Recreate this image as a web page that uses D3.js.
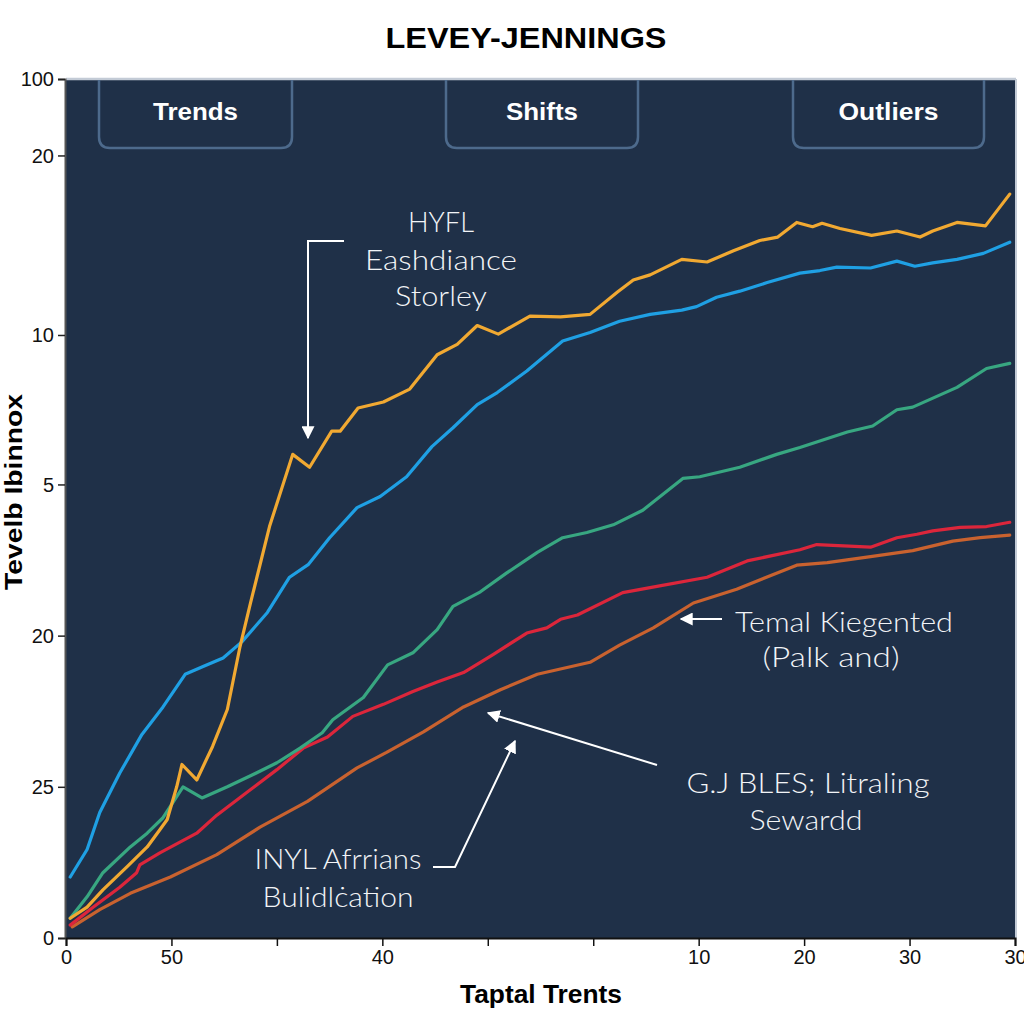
<!DOCTYPE html>
<html><head><meta charset="utf-8">
<script src="https://cdn.jsdelivr.net/npm/d3@7"></script>
<style>
html,body{margin:0;padding:0;background:#fff;}
svg{display:block;}
</style></head>
<body>
<svg id="chart" width="1024" height="1024"></svg>
<script>
// ---- data ----
const xTickValues = [0,10,20,30,40,50,60,70,80,90];
const xTickLabels = ["0","50","","40","","","10","20","30","30"];
const yTickValues = [0,17.6,35.2,52.8,70.2,91.1,100];
const yTickLabels = ["0","25","20","5","10","20","100"];
const categories = ["Trends","Shifts","Outliers"];

const seriesOrange = [[0.4,2.3],[2.0,3.6],[3.5,5.6],[5.8,8.3],[7.7,10.6],[8.9,12.6],[9.6,13.8],[10.5,17.6],[11.0,20.2],[12.4,18.4],[13.9,22.3],[15.3,26.6],[16.5,33.9],[17.5,39.0],[19.3,47.9],[21.5,56.3],[23.1,54.8],[25.2,59.0],[26.0,59.0],[27.7,61.7],[30.1,62.4],[32.6,63.9],[35.2,67.9],[37.1,69.1],[39.0,71.3],[41.0,70.3],[44.0,72.4],[46.9,72.3],[49.7,72.6],[52.3,75.2],[53.8,76.6],[55.4,77.2],[58.4,79.0],[60.8,78.7],[63.3,80.0],[65.8,81.2],[67.5,81.6],[69.3,83.3],[70.8,82.8],[71.7,83.2],[73.4,82.6],[76.4,81.8],[78.8,82.3],[81.0,81.6],[82.2,82.3],[84.5,83.3],[87.2,82.9],[89.5,86.6]];
const seriesBlue = [[0.4,7.1],[2.0,10.3],[3.2,14.6],[5.1,19.2],[7.2,23.7],[9.2,26.9],[11.3,30.7],[13.0,31.6],[14.9,32.6],[16.7,34.5],[19.1,37.9],[21.2,42.0],[23.0,43.5],[25.0,46.6],[27.6,50.1],[29.8,51.4],[32.3,53.7],[34.7,57.2],[36.7,59.4],[39.0,62.1],[40.9,63.5],[43.7,66.0],[47.1,69.5],[49.7,70.5],[52.5,71.8],[55.4,72.6],[58.4,73.1],[59.8,73.5],[61.7,74.6],[63.9,75.3],[66.5,76.3],[69.6,77.4],[71.5,77.7],[73.1,78.1],[76.3,78.0],[78.8,78.8],[80.5,78.2],[82.2,78.6],[84.5,79.0],[87.0,79.7],[89.5,81.0]];
const seriesGreen = [[0.4,2.3],[2.0,4.8],[3.5,7.6],[6.1,10.6],[7.7,12.2],[9.2,14.0],[11.1,17.6],[12.9,16.3],[15.3,17.6],[17.7,19.0],[20.0,20.4],[22.2,22.1],[24.3,23.9],[25.3,25.4],[28.2,28.0],[30.5,31.8],[32.9,33.2],[35.2,35.9],[36.7,38.6],[39.3,40.3],[41.8,42.5],[44.7,44.9],[47.1,46.6],[49.4,47.2],[51.9,48.1],[54.7,49.8],[58.5,53.5],[60.1,53.7],[63.9,54.8],[67.4,56.3],[69.6,57.1],[74.1,58.9],[76.5,59.6],[78.8,61.5],[80.3,61.8],[84.5,64.1],[87.3,66.3],[89.5,66.9]];
const seriesRed = [[0.4,1.5],[2.6,3.6],[5.1,5.9],[6.7,7.6],[7.0,8.5],[8.9,9.9],[12.4,12.2],[14.3,14.3],[17.2,17.0],[20.0,19.6],[22.5,22.1],[24.8,23.4],[27.2,25.8],[30.1,27.2],[32.9,28.7],[35.2,29.8],[37.7,30.9],[40.5,33.0],[43.7,35.5],[45.6,36.1],[46.9,37.1],[48.5,37.6],[52.8,40.2],[56.3,41.0],[60.8,42.0],[64.6,43.9],[69.6,45.2],[71.2,45.8],[76.3,45.5],[78.8,46.6],[80.7,47.0],[82.2,47.4],[84.8,47.8],[87.3,47.9],[89.5,48.4]];
const seriesBrown = [[0.6,1.3],[3.2,3.3],[6.1,5.2],[9.9,7.1],[14.3,9.7],[18.4,12.9],[22.9,15.9],[27.6,19.8],[30.4,21.6],[33.9,24.0],[37.7,26.9],[41.2,28.9],[44.7,30.7],[49.7,32.1],[52.5,34.1],[55.7,36.1],[59.5,39.0],[63.6,40.6],[69.3,43.4],[72.2,43.7],[76.3,44.4],[80.3,45.1],[84.1,46.2],[86.7,46.6],[89.5,46.9]];

// ---- layout ----
const svg = d3.select("#chart");
const L = 66, R = 1015, T = 79, B = 938;
const x = d3.scaleLinear().domain([0,90]).range([L,R]);
const y = d3.scaleLinear().domain([0,100]).range([B,T]);
const NAVY = "#1f3048";

svg.append("rect").attr("x",L).attr("y",T).attr("width",R-L).attr("height",B-T).attr("fill",NAVY);
svg.append("line").attr("x1",L).attr("x2",R+1).attr("y1",T).attr("y2",T).attr("stroke","#c3cbd6").attr("stroke-width",2.5);
svg.append("line").attr("x1",R+1).attr("x2",R+1).attr("y1",T).attr("y2",B).attr("stroke","#c3cbd6").attr("stroke-width",2);

// title
svg.append("text").attr("x",526).attr("y",48).attr("text-anchor","middle")
  .attr("font-family","'Liberation Sans Narrow','Liberation Sans',Arial,sans-serif").attr("font-weight","bold")
  .attr("font-size",29).attr("fill","#000").attr("textLength",281).attr("lengthAdjust","spacingAndGlyphs").text("LEVEY-JENNINGS");

// category boxes
const boxX = [[99,292],[446,638],[793,984]];
const boxTextW = [85,72,100];
categories.forEach((c,i)=>{
  const [a,b] = boxX[i], bt = 148, r = 11;
  svg.append("path").attr("d",`M${a},${T+1} L${a},${bt-r} Q${a},${bt} ${a+r},${bt} L${b-r},${bt} Q${b},${bt} ${b},${bt-r} L${b},${T+1}`)
    .attr("fill","none").attr("stroke","#4d6a8c").attr("stroke-width",2.5);
  svg.append("text").attr("x",(a+b)/2).attr("y",120).attr("text-anchor","middle")
    .attr("font-family","'Liberation Sans Narrow','Liberation Sans',Arial,sans-serif").attr("font-weight","bold")
    .attr("font-size",24).attr("fill","#fff").attr("textLength",boxTextW[i]).attr("lengthAdjust","spacingAndGlyphs").text(c);
});

// axes
const yAxis = d3.axisLeft(y).tickValues(yTickValues).tickFormat((d,i)=>yTickLabels[i]).tickSize(7).tickPadding(4);
const gy = svg.append("g").attr("transform",`translate(${L-1},0)`).call(yAxis);
gy.select(".domain").attr("stroke","#555").attr("stroke-width",2);
gy.selectAll(".tick line").attr("stroke","#222").attr("stroke-width",1.5);
gy.selectAll(".tick text").attr("font-family","'Liberation Sans',Arial,sans-serif").attr("font-size",20).attr("fill","#111").attr("dy","0.34em");

const xAxis = d3.axisBottom(x).tickValues(xTickValues).tickFormat((d,i)=>xTickLabels[i]).tickSize(8).tickPadding(4);
const gx = svg.append("g").attr("transform",`translate(0,${B})`).call(xAxis);
gx.select(".domain").attr("stroke","#111").attr("stroke-width",2);
gx.selectAll(".tick line").attr("stroke","#111").attr("stroke-width",1.5);
gx.selectAll(".tick text").attr("font-family","'Liberation Sans',Arial,sans-serif").attr("font-size",20).attr("fill","#111");

// axis titles
svg.append("text").attr("x",541).attr("y",1003).attr("text-anchor","middle")
  .attr("font-family","'Liberation Sans Narrow','Liberation Sans',Arial,sans-serif").attr("font-weight","bold")
  .attr("font-size",25).attr("fill","#000").attr("textLength",162).attr("lengthAdjust","spacingAndGlyphs").text("Taptal Trents");
svg.append("text").attr("transform","translate(22,492) rotate(-90)").attr("text-anchor","middle")
  .attr("font-family","'Liberation Sans',Arial,sans-serif").attr("font-weight","bold")
  .attr("font-size",23).attr("fill","#000").attr("textLength",196).attr("lengthAdjust","spacingAndGlyphs").text("Tevelb Ibinnox");

// lines
const line = d3.line().x(d=>x(d[0])).y(d=>y(d[1]));
const series = [
  {data:seriesBrown,color:"#c9622f"},
  {data:seriesRed,color:"#dc263b"},
  {data:seriesGreen,color:"#38a781"},
  {data:seriesBlue,color:"#1fa0e4"},
  {data:seriesOrange,color:"#f1a932"}
];
series.forEach(s=>{
  svg.append("path").attr("d",line(s.data)).attr("fill","none").attr("stroke",s.color)
    .attr("stroke-width",3.2).attr("stroke-linejoin","round").attr("stroke-linecap","round");
});

// annotations
const defs = svg.append("defs");
defs.append("marker").attr("id","ah").attr("viewBox","0 0 10 10").attr("refX",9).attr("refY",5)
  .attr("markerWidth",7).attr("markerHeight",7).attr("markerUnits","userSpaceOnUse").attr("orient","auto")
  .append("path").attr("d","M0,0 L10,5 L0,10 Z").attr("fill","#fff");
defs.select("marker").attr("markerWidth",13).attr("markerHeight",13);

const af = "Lato,'Open Sans',sans-serif";
function txt(xx,yy,s,w){
  svg.append("text").attr("x",xx).attr("y",yy).attr("text-anchor","middle").attr("font-family",af)
    .attr("font-weight",300).attr("font-size",28).attr("fill","#f2f4f7")
    .attr("textLength",w).attr("lengthAdjust","spacingAndGlyphs").text(s);
}
txt(441,232,"HYFL",66);
txt(441,270,"Eashdiance",152);
txt(441,306,"Storley",92);
txt(844,632,"Temal Kiegented",218);
txt(831,667,"(Palk and)",137);
txt(808,793,"G.J BLES; Litraling",243);
txt(806,830,"Sewardd",113);
txt(338,869,"INYL Afrrians",167);
txt(338,907,"Bulidlċation",151);

function arrow(d){
  svg.append("path").attr("d",d).attr("fill","none").attr("stroke","#fff").attr("stroke-width",2)
    .attr("marker-end","url(#ah)");
}
arrow("M344,241 L308,241 L308,438");
arrow("M722,619 L681,619");
arrow("M657,765 L488,713");
arrow("M433,867 L455,867 L515,741");
</script>
</body></html>
